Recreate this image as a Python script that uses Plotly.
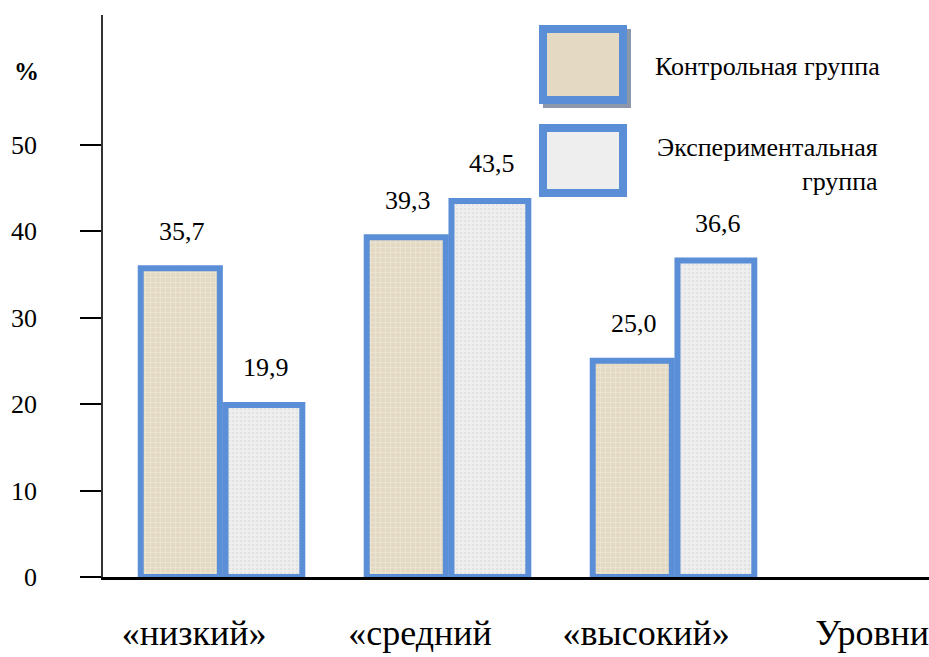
import plotly.graph_objects as go

# ---- data ----
CATEGORIES = ["«низкий»", "«средний", "«высокий»", "Уровни"]
BAR_CATEGORIES = ["«низкий»", "«средний", "«высокий»"]
CONTROL = [35.7, 39.3, 25.0]
EXPERIMENTAL = [19.9, 43.5, 36.6]
CONTROL_LABELS = ["35,7", "39,3", "25,0"]
EXPERIMENTAL_LABELS = ["19,9", "43,5", "36,6"]
SERIES_NAMES = ["Контрольная группа", "Экспериментальная<br>группа"]
Y_TICKS = [0, 10, 20, 30, 40, 50]
Y_TICK_TEXT = ["0", "10", "20", "30", "40", "50"]

# ---- styling / layout ----
W, H = 929, 657
ML, MR, MT, MB = 103, 0, 15, 80
PW, PH = W - ML - MR, H - MT - MB
FONT = "Liberation Serif"
BLUE = "#5A8ED6"
CTRL_BG, CTRL_FG = "#E4D9C3", "#F4EEE2"
EXP_BG, EXP_FG = "#EEEEEE", "#D6D6D6"

def px_x(px):
    return (px - ML) / PW

def px_y(py):
    return (H - MB - py) / PH

fig = go.Figure()
fig.add_trace(go.Bar(
    x=BAR_CATEGORIES, y=CONTROL, name="Контрольная группа",
    offset=-0.36, width=0.35,
    marker=dict(color=CTRL_BG, line=dict(color=BLUE, width=6),
                pattern=dict(shape="+", bgcolor=CTRL_BG, fgcolor=CTRL_FG,
                             size=5, solidity=0.35, fillmode="overlay")),
    showlegend=False, hoverinfo="skip",
))
fig.add_trace(go.Bar(
    x=BAR_CATEGORIES, y=EXPERIMENTAL, name="Экспериментальная группа",
    offset=0.015, width=0.34,
    marker=dict(color=EXP_BG, line=dict(color=BLUE, width=6),
                pattern=dict(shape=".", bgcolor=EXP_BG, fgcolor=EXP_FG,
                             size=4, solidity=0.3, fillmode="overlay")),
    showlegend=False, hoverinfo="skip",
))

annotations = []
# "%" label
annotations.append(dict(xref="paper", yref="paper", x=px_x(26), y=px_y(71),
                        text="<b>%</b>", showarrow=False, xanchor="center", yanchor="middle",
                        font=dict(family=FONT, size=25, color="black")))
# legend texts
annotations.append(dict(xref="paper", yref="paper", x=px_x(653), y=px_y(66),
                        text=SERIES_NAMES[0], showarrow=False, xanchor="left", yanchor="middle",
                        font=dict(family=FONT, size=26, color="black")))
annotations.append(dict(xref="paper", yref="paper", x=px_x(880), y=px_y(164),
                        text=SERIES_NAMES[1], showarrow=False, xanchor="right", yanchor="middle",
                        align="right",
                        font=dict(family=FONT, size=26, color="black")))

PX_PER_CAT = PW / 3.655
for cat, v, t in zip(BAR_CATEGORIES, CONTROL, CONTROL_LABELS):
    annotations.append(dict(x=cat, y=v, text=t, showarrow=False,
                            xshift=-0.185 * PX_PER_CAT + 2, yshift=37,
                            font=dict(family=FONT, size=26, color="black")))
for cat, v, t in zip(BAR_CATEGORIES, EXPERIMENTAL, EXPERIMENTAL_LABELS):
    annotations.append(dict(x=cat, y=v, text=t, showarrow=False,
                            xshift=0.185 * PX_PER_CAT + 2, yshift=37,
                            font=dict(family=FONT, size=26, color="black")))

shapes = [
    # shadow of control swatch
    dict(type="rect", xref="paper", yref="paper", layer="above",
         x0=px_x(543 + 4), x1=px_x(623 + 4), y0=px_y(100 + 4), y1=px_y(29 + 4),
         line=dict(color="#8C98AA", width=8), fillcolor="#8C98AA"),
    dict(type="rect", xref="paper", yref="paper", layer="above",
         x0=px_x(543), x1=px_x(623), y0=px_y(100), y1=px_y(29),
         line=dict(color=BLUE, width=8), fillcolor=CTRL_BG),
    dict(type="rect", xref="paper", yref="paper", layer="above",
         x0=px_x(543), x1=px_x(623), y0=px_y(193), y1=px_y(128),
         line=dict(color=BLUE, width=8), fillcolor=EXP_BG),
]

fig.update_layout(
    width=W, height=H, autosize=False,
    margin=dict(l=ML, r=MR, t=MT, b=MB, pad=0, autoexpand=False),
    paper_bgcolor="white", plot_bgcolor="white",
    barmode="overlay",
    annotations=annotations, shapes=shapes,
)
fig.update_xaxes(
    type="category", categoryorder="array", categoryarray=CATEGORIES,
    tickvals=CATEGORIES, ticktext=CATEGORIES,
    range=[-0.527, 3.128], automargin=False,
    showline=True, linecolor="black", linewidth=3,
    showgrid=False, zeroline=False, ticks="",
    tickfont=dict(family=FONT, size=36, color="black"),
    ticklabelstandoff=22, ticklabelshift=-28,
)
fig.update_yaxes(
    range=[0, 65], automargin=False,
    tickvals=Y_TICKS, ticktext=Y_TICK_TEXT,
    showline=True, linecolor="#333333", linewidth=1.5,
    showgrid=False, zeroline=False,
    ticks="outside", ticklen=21, tickwidth=2, tickcolor="black",
    tickfont=dict(family=FONT, size=26, color="black"),
    ticklabelstandoff=38,
)

fig.write_html("out.html")
